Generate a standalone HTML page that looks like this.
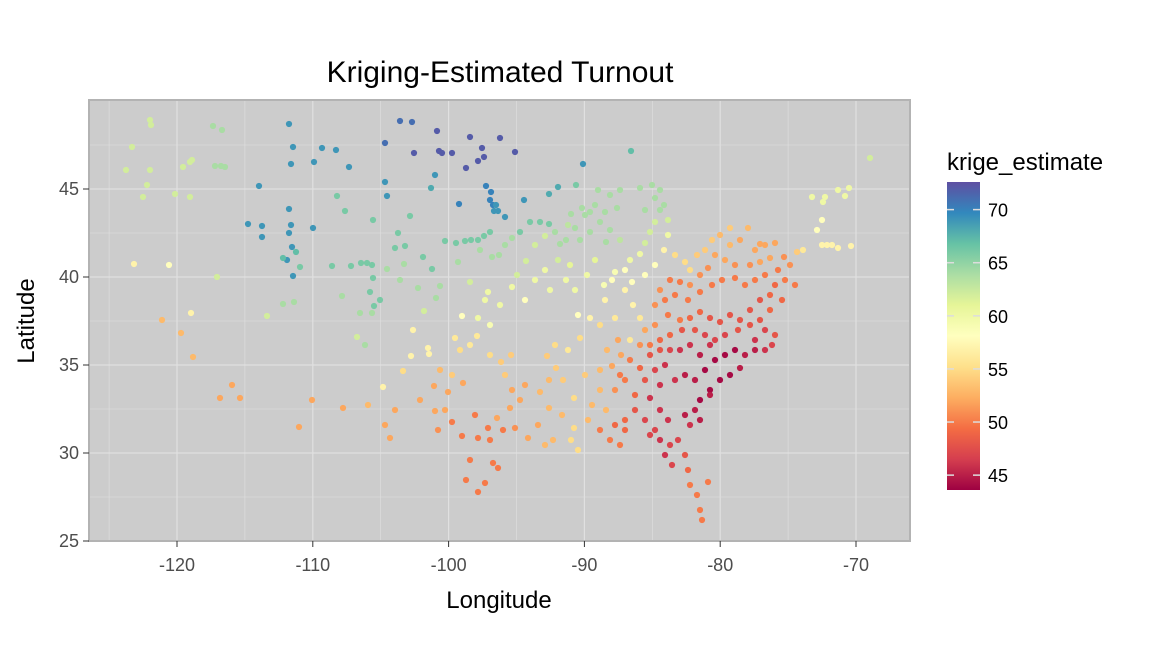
<!DOCTYPE html>
<html><head><meta charset="utf-8"><style>
html,body{margin:0;padding:0;background:#fff;}
svg{display:block;font-family:"Liberation Sans",sans-serif;}
</style></head><body>
<svg id="s" width="1152" height="672" viewBox="0 0 1152 672">
<defs>
<linearGradient id="g" x1="0" y1="1" x2="0" y2="0">
<stop offset="0" stop-color="#9e0142"/><stop offset="0.1" stop-color="#d53e4f"/><stop offset="0.2" stop-color="#f46d43"/><stop offset="0.3" stop-color="#fdae61"/><stop offset="0.4" stop-color="#fee08b"/><stop offset="0.5" stop-color="#ffffbf"/><stop offset="0.6" stop-color="#e6f598"/><stop offset="0.7" stop-color="#abdda4"/><stop offset="0.8" stop-color="#66c2a5"/><stop offset="0.9" stop-color="#3288bd"/><stop offset="1" stop-color="#5e4fa2"/>
</linearGradient>
</defs>
<rect x="89" y="100" width="821" height="441" fill="#cccccc"/>
<g id="grid"></g>
<g id="pts"></g>
<rect x="89" y="100" width="821" height="441" fill="none" stroke="#b3b3b3" stroke-width="2"/>
<text x="500" y="82" font-size="30" text-anchor="middle" fill="#000">Kriging-Estimated Turnout</text>
<text x="499" y="608" font-size="24" text-anchor="middle">Longitude</text>
<text x="0" y="0" font-size="24" text-anchor="middle" transform="translate(34,321) rotate(-90)">Latitude</text>
<g id="ticks" font-size="18" fill="#4d4d4d"></g>
<text x="947" y="170" font-size="24">krige_estimate</text>
<rect x="947" y="182" width="33" height="308" fill="url(#g)"/>
<g id="leg" font-size="18" fill="#000"></g>
</svg>
<script>
var NS="http://www.w3.org/2000/svg";
function el(t,a,p){var e=document.createElementNS(NS,t);for(var k in a)e.setAttribute(k,a[k]);document.getElementById(p).appendChild(e);return e;}
function X(lon){return 177+(lon+120)*13.58;}
function Y(lat){return 541-(lat-25)*17.6;}
for(var lon=-125;lon<=-70;lon+=5){var major=lon%10==0;el("line",{x1:X(lon),x2:X(lon),y1:100,y2:541,stroke:"#e0e0e0","stroke-width":major?1.2:0.6},"grid");}
for(var lat=25;lat<=49;lat+=2.5){var major=lat%5==0;el("line",{x1:89,x2:910,y1:Y(lat),y2:Y(lat),stroke:"#e0e0e0","stroke-width":major?1.2:0.6},"grid");}
for(var lon=-120;lon<=-70;lon+=10){el("line",{x1:X(lon),x2:X(lon),y1:541,y2:547,stroke:"#333"},"ticks");var t=el("text",{x:X(lon),y:571,"text-anchor":"middle"},"ticks");t.textContent=lon;}
for(var lat=25;lat<=45;lat+=5){el("line",{x1:83,x2:89,y1:Y(lat),y2:Y(lat),stroke:"#333"},"ticks");var t=el("text",{x:79,y:Y(lat)+6,"text-anchor":"end"},"ticks");t.textContent=lat;}
[70,65,60,55,50,45].forEach(function(v){var y=490-(v-43.6)/29*308;el("line",{x1:947,x2:954,y1:y,y2:y,stroke:"#ddd","stroke-width":1.5},"leg");el("line",{x1:973,x2:980,y1:y,y2:y,stroke:"#ddd","stroke-width":1.5},"leg");var t=el("text",{x:988,y:y+7},"leg");t.textContent=v;});
var stops=["#9e0142","#d53e4f","#f46d43","#fdae61","#fee08b","#ffffbf","#e6f598","#abdda4","#66c2a5","#3288bd","#5e4fa2"];
function hx(c){return [parseInt(c.substr(1,2),16),parseInt(c.substr(3,2),16),parseInt(c.substr(5,2),16)];}
function col(v){var f=(v-43.6)/29;f=Math.max(0,Math.min(1,f))*10;var i=Math.min(9,Math.floor(f)),r=f-i;var a=hx(stops[i]),b=hx(stops[i+1]);return "rgb("+a.map(function(x,k){return Math.round(x+(b[k]-x)*r);}).join(",")+")";}
var P=[[132,147,62],[126,170,62],[150,120,62],[151,125,62],[150,170,62],[147,185,62],[143,197,62],[134,264,57],[169,265,58],[162,320,53],[181,333,53],[193,357,53],[191,313,57],[175,194,62],[190,162,62],[183,167,62],[192,160,62],[190,197,62],[213,126,64],[222,130,64],[215,166,64],[221,166,64],[225,167,64],[217,277,62],[220,398,52],[232,385,52],[240,398,52],[267,316,62],[283,304,64],[287,260,69],[293,276,69],
[289,124,69],[293,147,69],[291,164,69],[289,209,69],[291,225,69],[259,186,69],[248,224,69],[262,226,69],[262,237,69],[292,247,69],[283,258,67],[296,252,67],[300,267,66],[294,302,64],[289,233,69],[314,162,69],[322,148,69],[336,150,69],[349,167,69],[313,228,69],[337,196,66],[345,211,66],[332,266,66],[342,296,64],[351,266,66],[361,263,66],[367,263,66],[372,265,66],[373,278,66],[370,292,66],[380,300,66],[374,306,66],[372,313,64],[360,313,64],[357,337,62],[365,345,64],[373,220,66],[385,182,69],[387,196,69],[385,143,71],[400,121,71],[412,122,71],[414,153,72],[437,131,72],[439,151,72],[442,153,72],[452,153,72],[470,137,72],[500,138,72],[482,148,72],[484,157,72],[478,161,72],[466,168,72],[515,152,72],[486,186,70],[491,192,70],[490,200,70],[493,205,70],[494,211,69],[498,211,69],[496,205,69],[505,217,69],[524,200,69],[558,187,68],[549,194,68],[583,164,69],[631,151,67],[576,185,66],[459,204,70],[435,175,69],[431,188,68],[410,216,66],
[398,233,66],[395,248,66],[405,246,66],[387,269,64],[404,264,64],[400,280,64],[423,257,66],[432,269,66],[440,286,64],[436,298,64],[418,288,64],[424,311,62],[413,330,57],[411,356,57],[428,348,57],[429,354,57],[403,371,55],[383,387,57],[445,241,66],[456,243,66],[465,241,66],[471,240,66],[478,240,66],[484,236,66],[490,232,66],[480,250,64],[492,257,64],[499,255,64],[505,245,64],[512,238,64],[520,232,66],[530,222,66],[540,222,66],[549,224,66],[555,232,64],[560,244,64],[566,240,64],[575,228,64],[580,240,64],[590,232,64],[600,222,64],[610,230,64],[620,240,63],[630,260,60],[640,254,60],[645,243,62],[650,232,62],[655,222,62],[660,210,64],[655,198,64],[645,210,64],[640,188,64],[652,185,64],[660,190,64],[664,205,64],[668,220,62],[606,242,64],[617,208,64],[605,212,64],[595,205,64],[590,212,64],[598,190,64],[610,195,64],[620,190,64],[582,208,64],[585,215,64],[571,214,64],[568,225,63],[545,236,62],[535,245,62],[526,261,62],[517,275,62],[512,287,60],[525,300,58],[535,280,60],[545,270,60],[550,290,60],[558,260,62],[570,265,61],[566,280,60],[575,290,60],[587,275,60],[595,260,61],[604,285,59],[615,272,59],[625,290,57],[633,305,57],[640,318,56],[630,340,56],[615,318,56],[600,325,55],[590,318,57],[578,315,58],[580,338,55],[568,350,56],[555,345,55],[547,356,54],[556,368,54],[563,380,54],[549,380,53],[540,392,53],[549,408,53],[562,415,53],[574,398,55],[574,428,55],[571,440,55],[578,450,55],[588,420,53],[592,405,53],[600,390,53],[606,410,53],[585,375,54],[600,370,53],[612,366,52],[621,355,52],[607,350,53],[458,262,64],[470,282,62],[488,292,60],[500,305,60],[485,300,60],[478,318,60],[490,325,59],[462,316,58],[455,338,56],[470,345,56],[477,336,56],[490,355,55],[501,362,54],[511,355,54],[505,375,54],[512,390,52],[525,385,52],[520,400,52],[510,408,52],[497,418,52],[488,428,50],[478,438,50],[490,440,50],[503,430,50],[515,428,51],[528,438,52],[538,425,52],[545,445,53],[553,440,53],[463,383,52],[448,392,52],[435,411,52],[445,410,52],[452,422,50],[462,436,50],[470,460,50],[466,480,50],[478,492,50],[485,483,50],[493,463,50],[498,468,50],[475,415,50],[438,430,51],[420,400,52],[395,410,52],[385,425,52],[390,438,52],[343,408,52],[368,405,53],[312,400,52],[299,427,52],[434,386,52],[440,370,53],[460,350,55],[452,375,54],
[605,300,57],[612,280,58],[625,270,58],[632,282,58],[645,275,58],[655,265,58],[664,250,57],[668,235,60],[675,255,55],[685,262,55],[690,270,55],[697,255,54],[705,250,54],[712,240,54],[720,235,53],[730,245,53],[740,240,52],[748,228,53],[755,250,52],[765,245,52],[775,243,52],[770,258,52],[760,262,52],[750,265,51],[735,265,51],[725,260,52],[715,255,52],[708,268,51],[700,275,51],[690,285,51],[680,282,50],[670,280,50],[660,290,51],[655,305,51],[665,300,50],[675,295,50],[688,300,50],[700,292,50],[712,285,50],[722,280,50],[735,278,50],[745,285,50],[755,280,50],[765,275,50],[775,285,49],[770,295,49],[760,300,48],[750,310,48],[740,320,48],[730,315,48],[720,322,48],[710,318,48],[700,312,49],[690,318,49],[680,320,50],[668,315,50],[655,325,51],[645,330,52],[640,345,51],[650,345,50],[660,340,49],[670,335,49],[682,330,48],[695,330,48],[705,335,47],[715,340,47],[725,335,47],[738,330,48],[750,325,48],[760,320,48],[770,310,49],[782,300,49],[778,270,50],[784,257,51],[797,252,54],[803,250,56],[785,280,50],[795,285,50],[790,265,51],[630,360,50],[640,368,49],[620,375,50],[615,390,51],[625,380,50],[635,395,49],[645,380,48],[655,370,47],[665,365,46],[660,385,46],[650,398,46],[660,410,46],[668,420,46],[655,430,47],[660,440,46],[670,445,47],[678,440,47],[685,455,48],[688,470,49],[690,485,50],[697,495,50],[700,510,50],[702,520,50],[708,482,50],[675,380,46],[685,375,45],[695,380,45],[705,370,44],[715,360,44],[725,355,44],[735,350,44],[745,355,45],[755,350,45],[765,350,46],[772,345,47],[775,335,48],[765,330,47],[755,340,46],[740,368,45],[730,375,44],[720,380,44],[710,390,44],[700,400,44],[695,410,45],[685,415,45],[690,425,46],[700,420,45],[710,395,45],[660,350,48],[670,350,47],[680,350,46],[690,345,46],[700,355,45],[710,345,46],[650,355,48],[618,340,52],[615,425,49],[625,420,49],[635,410,48],[645,420,47],[625,430,49],[600,430,50],[610,440,50],[620,445,50],[650,435,47],[665,455,46],[672,465,47],
[730,228,54],[760,244,52],[812,197,60],[817,230,58],[822,220,58],[823,202,60],[825,197,60],[822,245,57],[827,245,57],[832,245,57],[838,248,57],[838,190,60],[845,196,60],[849,188,60],[870,158,62],[851,246,57]];
P.forEach(function(p){el("circle",{cx:p[0],cy:p[1],r:3.1,fill:col(p[2])},"pts");});
</script>
</body></html>
